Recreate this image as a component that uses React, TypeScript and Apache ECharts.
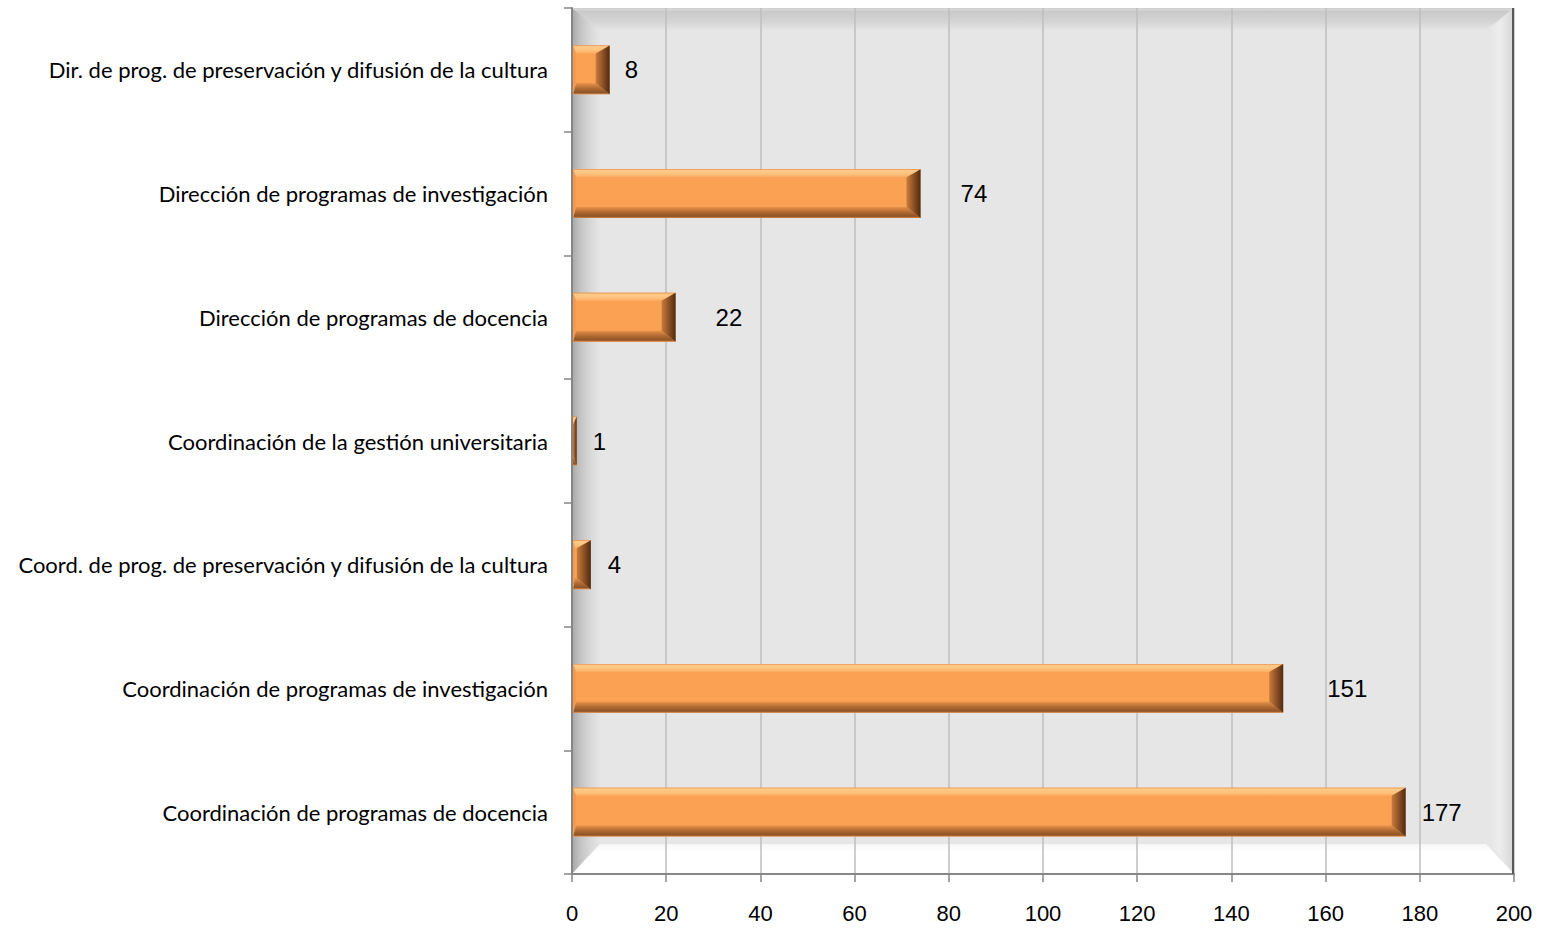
import React, { useEffect, useRef } from "react";
import * as echarts from "echarts";

// Categories listed bottom-to-top (ECharts category axis order)
const categories: string[] = [
  "Coordinación de programas de docencia",
  "Coordinación de programas de investigación",
  "Coord. de prog. de preservación y difusión de la cultura",
  "Coordinación de la gestión universitaria",
  "Dirección de programas de docencia",
  "Dirección de programas de investigación",
  "Dir. de prog. de preservación y difusión de la cultura",
];
const values: number[] = [177, 151, 4, 1, 22, 74, 8];
const xTicks: number[] = [0, 20, 40, 60, 80, 100, 120, 140, 160, 180, 200];
// label gap after each bar end (style)
const labelGaps: number[] = [16, 44, 17, 16, 40, 40, 15];

const G = { left: 572, right: 30, top: 8, bottom: 54 };
const W = 1544;
const H = 928;

export default function App() {
  const ref = useRef<HTMLDivElement>(null);
  useEffect(() => {
    if (!ref.current) return;
    const chart = echarts.init(ref.current, undefined, { renderer: "svg" });
    const x0 = G.left;
    const x1 = W - G.right;
    const y0 = G.top;
    const y1 = H - G.bottom;
    const bv = 28;
    const lin = (x: number, y: number, x2: number, y2: number, stops: [number, string][]) =>
      new echarts.graphic.LinearGradient(x, y, x2, y2, stops.map(([o, c]) => ({ offset: o, color: c })));

    const frame = [
      { type: "rect", z: -20, shape: { x: x0, y: y0, width: x1 - x0, height: y1 - y0 }, style: { fill: "#e6e6e6" } },
      {
        type: "polygon", z: -19,
        shape: { points: [[x0, y0], [x1, y0], [x1 - bv, y0 + 22], [x0 + bv, y0 + 22]] },
        style: { fill: lin(0, 0, 0, 1, [[0, "#e2e2e2"], [0.15, "#c9c9c9"], [0.6, "#d4d4d4"], [1, "#e4e4e4"]]) },
      },
      {
        type: "polygon", z: -19,
        shape: { points: [[x0, y0], [x0 + bv, y0 + 22], [x0 + bv, y1 - 30], [x0, y1]] },
        style: { fill: lin(0, 0, 1, 0, [[0, "#a9a9a9"], [0.3, "#c4c4c4"], [0.7, "#dadada"], [1, "#e5e5e5"]]) },
      },
      {
        type: "polygon", z: -19,
        shape: { points: [[x0, y1], [x0 + bv, y1 - 30], [x1 - bv, y1 - 30], [x1, y1]] },
        style: { fill: lin(0, 0, 0, 1, [[0, "#f6f6f6"], [0.25, "#ffffff"], [1, "#ffffff"]]) },
      },
      {
        type: "polygon", z: -19,
        shape: { points: [[x1, y0], [x1 - bv + 4, y0 + 22], [x1 - bv + 4, y1 - 30], [x1, y1]] },
        style: { fill: lin(0, 0, 1, 0, [[0, "#e6e6e6"], [0.4, "#ededed"], [1, "#d6d6d6"]]) },
      },
      { type: "line", z: -18, shape: { x1: x0, y1: y0 + 0.5, x2: x1, y2: y0 + 0.5 }, style: { stroke: "#d0d0d0", lineWidth: 1 } },
      { type: "line", z: 5, shape: { x1: x1 - 1, y1: y0, x2: x1 - 1, y2: y1 }, style: { stroke: "#5a5a5a", lineWidth: 2 } },
    ];

    const renderItem = (params: any, api: any) => {
      const v = api.value(0);
      const ci = api.value(1);
      const s = api.coord([0, ci]);
      const e = api.coord([v, ci]);
      const h = api.size([0, 1])[1] * 0.395;
      const xa = s[0] + 1;
      const xb = e[0];
      const yc = e[1];
      const top = yc - h / 2;
      const bot = yc + h / 2;
      const len = Math.max(xb - xa, 0.5);
      const r = len < 8 ? len : Math.min(14, len * 0.8);
      const l = len < 8 ? 0 : Math.min(3, len * 0.1);
      const t = 8;
      const b = 11;
      const children: any[] = [
        { type: "rect", shape: { x: xa, y: top, width: len, height: h }, style: { fill: "#fba153" } },
        {
          type: "polygon",
          shape: { points: [[xa, top], [xb, top], [xb - r, top + t], [xa + l, top + t]] },
          style: { fill: lin(0, 0, 0, 1, [[0, "#e98a3c"], [0.15, "#fdcb8c"], [0.6, "#fdc27c"], [1, "#fcab60"]]) },
        },
        {
          type: "polygon",
          shape: { points: [[xa, bot], [xb, bot], [xb - r, bot - b], [xa + l, bot - b]] },
          style: { fill: lin(0, 0, 0, 1, [[0, "#e79249"], [0.45, "#b26b33"], [0.85, "#8e5427"], [1, "#d9894a"]]) },
        },
        {
          type: "polygon",
          shape: { points: [[xa, top], [xa + l, top + t], [xa + l, bot - b], [xa, bot]] },
          style: { fill: "#f39a4e" },
        },
        {
          type: "polygon",
          shape: { points: [[xb, top], [xb, bot], [xb - r, bot - b], [xb - r, top + t]] },
          style: { fill: lin(0, 0, 1, 0, [[0, "#c97c3a"], [0.5, "#8f5226"], [1, "#4f2a10"]]) },
        },
        {
          type: "text",
          style: {
            text: String(v),
            x: xb + labelGaps[params.dataIndex],
            y: yc,
            align: "left",
            verticalAlign: "middle",
            fill: "#000000",
            font: "24px 'Liberation Sans', Arial, sans-serif",
          },
        },
      ];
      return { type: "group", children };
    };

    chart.setOption({
      animation: false,
      backgroundColor: "#ffffff",
      grid: { left: G.left, right: G.right, top: G.top, bottom: G.bottom, containLabel: false },
      graphic: { elements: frame },
      xAxis: {
        type: "value",
        min: 0,
        max: 200,
        interval: 20,
        axisLine: { show: true, lineStyle: { color: "#868686", width: 2 } },
        axisTick: { show: true, length: 8, lineStyle: { color: "#868686", width: 1.5 } },
        splitLine: { show: true, lineStyle: { color: "#bebebe", width: 1.5 } },
        axisLabel: {
          color: "#000",
          fontSize: 22,
          fontFamily: "Liberation Sans",
          margin: 28,
          formatter: (val: number) => (xTicks.includes(val) ? String(val) : ""),
        },
      },
      yAxis: {
        type: "category",
        data: categories,
        axisLine: { show: true, lineStyle: { color: "#868686", width: 2 } },
        axisTick: { show: true, length: 8, lineStyle: { color: "#868686", width: 1.5 } },
        splitLine: { show: false },
        axisLabel: {
          color: "#000",
          fontSize: 22,
          fontFamily: "Lato",
          margin: 24,
        },
      },
      series: [
        {
          type: "custom",
          renderItem,
          encode: { x: 0, y: 1 },
          z: 3,
          data: values.map((v, i) => [v, i]),
        },
      ],
    });
    return () => chart.dispose();
  }, []);
  return (
    <div
      ref={ref}
      style={{ position: "fixed", left: 0, top: 0, width: W, height: H, background: "#fff" }}
    />
  );
}
